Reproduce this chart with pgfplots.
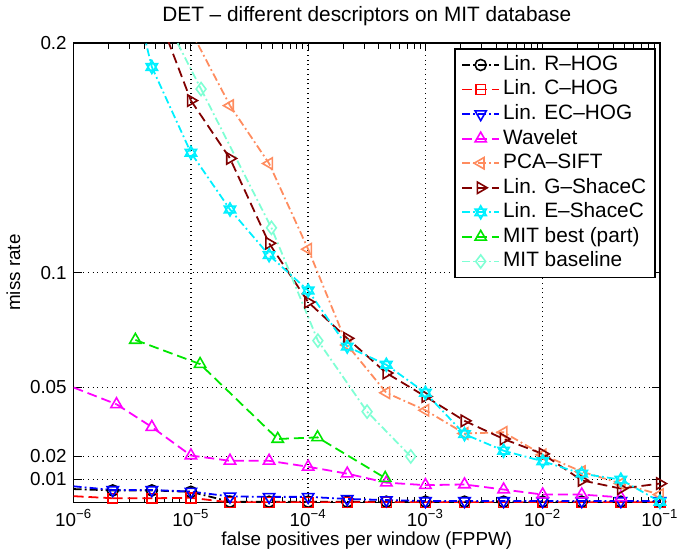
\documentclass[border=0pt]{standalone}
\usepackage{fontspec}
\setmainfont{Liberation Sans}
\usepackage{pgfplots}
\pgfplotsset{compat=1.18}
\usetikzlibrary{plotmarks}
\definecolor{salmonc}{RGB}{255,140,95}
\definecolor{maroonc}{RGB}{128,0,0}
\definecolor{aquac}{RGB}{127,255,212}
\definecolor{limec}{RGB}{0,230,0}
\definecolor{magc}{RGB}{255,0,255}
\definecolor{cyanc}{RGB}{0,240,255}
\definecolor{redc}{RGB}{255,0,0}
\definecolor{bluec}{RGB}{0,0,255}
\pgfdeclareplotmark{hexagram}{%
  \pgfpathmoveto{\pgfpointpolar{90}{1.1\pgfplotmarksize}}%
  \pgfpathlineto{\pgfpointpolar{210}{1.1\pgfplotmarksize}}%
  \pgfpathlineto{\pgfpointpolar{330}{1.1\pgfplotmarksize}}%
  \pgfpathclose
  \pgfpathmoveto{\pgfpointpolar{270}{1.1\pgfplotmarksize}}%
  \pgfpathlineto{\pgfpointpolar{30}{1.1\pgfplotmarksize}}%
  \pgfpathlineto{\pgfpointpolar{150}{1.1\pgfplotmarksize}}%
  \pgfpathclose
  \pgfusepathqstroke
}
\tikzset{
  mdashdot/.style={dash pattern=on 4pt off 1.6pt on 0.9pt off 1.6pt},
  mdash/.style={dash pattern=on 5pt off 2.5pt},
}
\begin{document}
\begin{tikzpicture}
\begin{axis}[
  width=296pt, height=232pt, scale only axis,
  xmode=log, xmin=1e-6, xmax=1e-1, ymin=0, ymax=0.2,
  xtick={1e-6,1e-5,1e-4,1e-3,1e-2,1e-1},
  xticklabels={10\textsuperscript{−6},10\textsuperscript{−5},10\textsuperscript{−4},10\textsuperscript{−3},10\textsuperscript{−2},10\textsuperscript{−1}},
  ytick={0.01,0.02,0.05,0.1,0.2},
  yticklabels={0.01,0.02,0.05,0.1,0.2},
  grid=major,
  major grid style={black, dotted, line width=0.7pt},
  axis line style={line width=0.8pt},
  tick style={black, line width=0.5pt},
  tick align=inside,
  ticklabel style={font=\fontsize{9.5}{11}\selectfont},
  title={DET -- different descriptors on MIT database},
  title style={font=\fontsize{10.5}{12}\selectfont, yshift=-1pt},
  xlabel={false positives per window (FPPW)},
  ylabel={miss rate},
  label style={font=\fontsize{9.5}{11}\selectfont},
  xlabel style={yshift=4pt},
  ylabel style={yshift=-2pt},
  legend cell align=left,
  legend style={at={(0.993,0.989)}, anchor=north east, draw=black, line width=0.8pt,
    font=\fontsize{10.5}{12}\selectfont,
    nodes={text height=7.4pt, text depth=2pt, inner sep=1.5pt},
    inner xsep=3pt, inner ysep=2pt},
  legend image code/.code={\draw[mark repeat=2,mark phase=2,#1] plot coordinates {(0cm,0cm)(0.33cm,0cm)(0.66cm,0cm)};},
  every axis plot/.append style={line width=0.9pt},
]
% Lin. R-HOG
\addplot[black, mdashdot, mark=o, mark options={solid, mark size=2.8pt, line width=0.8pt}] coordinates {
(2.154e-6,0.0052) (4.642e-6,0.0052) (1e-5,0.0046) (2.154e-5,0.0003) (4.642e-5,0.0003) (1e-4,0.0003) (2.154e-4,0.0003) (4.642e-4,0.0003) (1e-3,0.0003) (2.154e-3,0.0003) (4.642e-3,0.0003) (1e-2,0.0003) (2.154e-2,0.0003) (4.642e-2,0.0003) (1e-1,0.0003)};
\addlegendentry{Lin. R--HOG}
\addplot[black, mdashdot, forget plot] coordinates {(1e-6,0.0058) (2.154e-6,0.0052)};
% Lin. C-HOG
\addplot[redc, mdash, mark=square, mark options={solid, mark size=2.5pt, line width=0.8pt}] coordinates {
(2.154e-6,0.0018) (4.642e-6,0.0018) (1e-5,0.0020) (2.154e-5,0.0) (4.642e-5,0.0) (1e-4,0.0) (2.154e-4,0.0) (4.642e-4,0.0) (1e-3,0.0) (2.154e-3,0.0) (4.642e-3,0.0) (1e-2,0.0) (2.154e-2,0.0) (4.642e-2,0.0) (1e-1,0.0)};
\addlegendentry{Lin. C--HOG}
\addplot[redc, mdash, forget plot] coordinates {(1e-6,0.0027) (2.154e-6,0.0018)};
% Lin. EC-HOG
\addplot[bluec, mdashdot, mark=triangle, mark options={solid, rotate=180, mark size=3.3pt, line width=0.8pt}] coordinates {
(2.154e-6,0.0054) (4.642e-6,0.0054) (1e-5,0.0047) (2.154e-5,0.0026) (4.642e-5,0.0024) (1e-4,0.0024) (2.154e-4,0.0015) (4.642e-4,0.0010) (1e-3,0.0006) (2.154e-3,0.0006) (4.642e-3,0.0006) (1e-2,0.0006) (2.154e-2,0.0006) (4.642e-2,0.0006) (1e-1,0.0006)};
\addlegendentry{Lin. EC--HOG}
\addplot[bluec, mdashdot, forget plot] coordinates {(1e-6,0.0070) (2.154e-6,0.0054)};
% Wavelet
\addplot[magc, mdash, mark=triangle, mark options={solid, mark size=3.3pt, line width=0.8pt}] coordinates {
(2.32e-6,0.0427) (4.642e-6,0.0328) (1e-5,0.0204) (2.154e-5,0.0181) (4.642e-5,0.0181) (1e-4,0.0155) (2.154e-4,0.0125) (4.642e-4,0.0086) (1e-3,0.0075) (2.154e-3,0.0078) (4.642e-3,0.0056) (1e-2,0.0034) (2.154e-2,0.0034) (4.642e-2,0.0022)};
\addlegendentry{Wavelet}
\addplot[magc, mdash, forget plot] coordinates {(1e-6,0.0500) (2.32e-6,0.0427)};
% PCA-SIFT
\addplot[salmonc, mdashdot, mark=triangle, mark options={solid, rotate=90, mark size=3.3pt, line width=0.8pt}] coordinates {
(2.154e-5,0.1727) (4.642e-5,0.1475) (1e-4,0.1102) (2.154e-4,0.0685) (4.642e-4,0.0477) (1e-3,0.0401) (2.154e-3,0.0300) (4.642e-3,0.0305) (1e-2,0.0207) (2.154e-2,0.0134) (4.642e-2,0.0082) (1e-1,0.0034)};
\addlegendentry{PCA--SIFT}
\addplot[salmonc, mdashdot, forget plot] coordinates {(1e-5,0.2052) (2.154e-5,0.1727)};
% Lin. G-ShaceC
\addplot[maroonc, mdash, mark=triangle, mark options={solid, rotate=-90, mark size=3.3pt, line width=0.8pt}] coordinates {
(1e-5,0.1749) (2.154e-5,0.1497) (4.642e-5,0.1128) (1e-4,0.0872) (2.154e-4,0.0714) (4.642e-4,0.0563) (1e-3,0.0461) (2.154e-3,0.0355) (4.642e-3,0.0276) (1e-2,0.0211) (2.154e-2,0.0096) (4.642e-2,0.0060) (1e-1,0.0082)};
\addlegendentry{Lin. G--ShaceC}
\addplot[maroonc, mdash, forget plot] coordinates {(4.642e-6,0.2194) (1e-5,0.1749)};
% Lin. E-ShaceC
\addplot[cyanc, mdashdot, mark=hexagram, mark options={solid, mark size=3pt, line width=0.8pt}] coordinates {
(4.642e-6,0.1895) (1e-5,0.1522) (2.154e-5,0.1275) (4.642e-5,0.1076) (1e-4,0.0922) (2.154e-4,0.0678) (4.642e-4,0.0599) (1e-3,0.0477) (2.154e-3,0.0297) (4.642e-3,0.0225) (1e-2,0.0179) (2.154e-2,0.0125) (4.642e-2,0.0099) (1e-1,0.0003)};
\addlegendentry{Lin. E--ShaceC}
\addplot[cyanc, mdashdot, forget plot] coordinates {(2.154e-6,0.2586) (4.642e-6,0.1895)};
% MIT best (part)
\addplot[limec, mdash, mark=triangle, mark options={solid, mark size=3.3pt, line width=0.8pt}] coordinates {
(3.36e-6,0.0707) (1.197e-5,0.0602) (5.5e-5,0.0276) (1.202e-4,0.0283) (4.54e-4,0.0106)};
\addlegendentry{MIT best (part)}
% MIT baseline
\addplot[aquac, mdashdot, mark=diamond, mark options={solid, mark size=3.3pt, line width=0.8pt}] coordinates {
(1.22e-5,0.1799) (4.86e-5,0.1195) (1.21e-4,0.0704) (3.18e-4,0.0395) (7.5e-4,0.0200)};
\addlegendentry{MIT baseline}
\addplot[aquac, mdashdot, forget plot] coordinates {(5.01e-6,0.2185) (1.22e-5,0.1799)};
\end{axis}
\end{tikzpicture}
\end{document}
